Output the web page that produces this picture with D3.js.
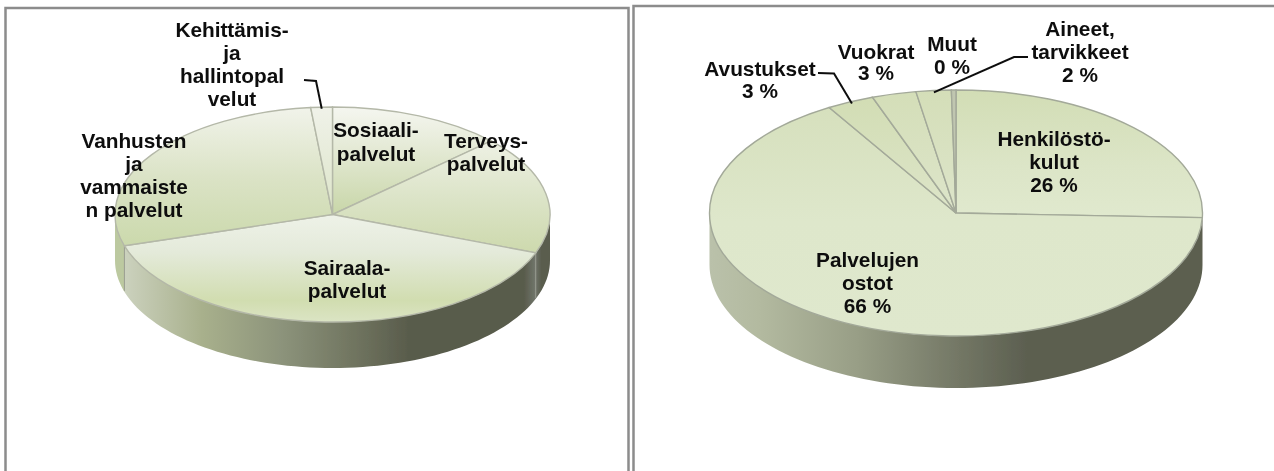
<!DOCTYPE html>
<html>
<head>
<meta charset="utf-8">
<script src="https://cdn.jsdelivr.net/npm/d3@7/dist/d3.min.js"></script>
<style>
    body { margin: 0; background: #fff; overflow: hidden; }
    svg { display: block; }
    text { font-family: "Liberation Sans", Arial, sans-serif; font-weight: bold; font-size: 20.8px; fill: #0c0c0c; text-anchor: middle; }
</style>
</head>
<body>
<script>
// ================================
// DATA
// ================================

// left pie: shares
var leftNames = ["Sosiaalipalvelut", "Terveyspalvelut", "Sairaalapalvelut", "Vanhusten ja vammaisten palvelut", "Kehittämis- ja hallintopalvelut"];
var leftValues = [13, 17.8, 39.5, 28.1, 1.6];
var leftLabels = [
    ["Sosiaali-", "palvelut"],
    ["Terveys-", "palvelut"],
    ["Sairaala-", "palvelut"],
    ["Vanhusten", "ja", "vammaiste", "n palvelut"],
    ["Kehittämis-", "ja", "hallintopal", "velut"]
];

// right pie: labels say whole percents, angles give a bit more detail
var rightNames = ["Henkilöstökulut", "Palvelujen ostot", "Avustukset", "Vuokrat", "Aineet, tarvikkeet", "Muut"];
var rightValues = [25.6, 65.8, 3.1, 2.9, 2.3, 0.3];
var rightLabels = [
    ["Henkilöstö-", "kulut", "26 %"],
    ["Palvelujen", "ostot", "66 %"],
    ["Avustukset", "3 %"],
    ["Vuokrat", "3 %"],
    ["Aineet,", "tarvikkeet", "2 %"],
    ["Muut", "0 %"]
];

// ================================
// LAYOUT + STYLE
// ================================
var width = 1274,
    height = 471;

var leftPie = {
    id: "l", cx: 332.5, cy: 214.5, rx: 217.5, ry: 107.5, depth: 46,
    values: leftValues, names: leftNames, labels: leftLabels,
    labelPos: [[376, 137], [486, 148], [347, 275], [134, 148], [232, 37]],
    lineHeights: [24, 23, 23, 23, 23],
    leaders: [{slice: 4, from: [304, 80], knee: [316, 81]}],
    edge: "#b4b8a8",
    tops: [
        [[0, "#f5f6f0"], [0.35, "#e6ebd8"], [1, "#c8d6a8"]],
        [[0, "#eef1e4"], [0.5, "#dce4c8"], [1, "#cdd9ad"]],
        [[0, "#eef2e8"], [0.35, "#e4eada"], [0.8, "#d1ddb0"], [1, "#dbe4c4"]],
        [[0, "#f1f3ea"], [0.5, "#dbe3c6"], [1, "#cbd9ac"]],
        [[0, "#f0f2e9"], [1, "#dce4c8"]]
    ],
    wall: [[0, "#bcc9a0"], [0.02, "#bcc9a0"], [0.024, "#cbd1bd"], [0.2, "#a8b08c"], [0.39, "#8b927a"], [0.58, "#6b6f5b"], [0.68, "#585b4b"], [0.94, "#585b4b"], [0.965, "#70746a"], [0.98, "#5a5d4e"], [1, "#5a5d4e"]],
    wallLine: "#9a9e92"
};

var rightPie = {
    id: "r", cx: 956, cy: 213, rx: 246.5, ry: 123, depth: 52,
    values: rightValues, names: rightNames, labels: rightLabels,
    labelPos: [[1054, 146], [867.5, 267], [760, 76], [876, 59], [1080, 36], [952, 51]],
    lineHeights: [23, 23, 22, 21, 23, 23],
    leaders: [
        {slice: 2, from: [818, 73], knee: [834, 73.5]},
        {slice: 4, from: [1028, 57], knee: [1014, 57]}
    ],
    edge: "#a3a999",
    tops: [
        [[0, "#d2ddb5"], [0.6, "#dce5c7"], [1, "#e0e9ce"]],
        [[0, "#d6e0bd"], [0.5, "#dee7cb"], [1, "#dfe8cd"]],
        [[0, "#d2ddb4"], [1, "#dde5c9"]],
        [[0, "#d4deb8"], [1, "#dde5ca"]],
        [[0, "#d4deb8"], [1, "#dde5ca"]],
        [[0, "#c0c6b0"], [1, "#c0c6b0"]]
    ],
    wall: [[0, "#bac1aa"], [0.1, "#b3baa0"], [0.3, "#989e86"], [0.5, "#747866"], [0.65, "#5b5e4f"], [1, "#5b5e4f"]],
    wallLine: "none"
};

var svg = d3.select("body")
    .append("svg")
    .attr("width", width)
    .attr("height", height);

var defs = svg.append("defs");

// the source picture is a soft upscaled screenshot
defs.append("filter")
    .attr("id", "soft")
    .append("feGaussianBlur")
    .attr("stdDeviation", 0.55);

var chart = svg.append("g").attr("filter", "url(#soft)");

// ================================
// PANEL FRAMES
// ================================
function drawFrame(d, stroke, strokeWidth){
    chart.append("path")
        .attr("d", d)
        .attr("fill", "none")
        .attr("stroke", stroke)
        .attr("stroke-width", strokeWidth);
}

drawFrame("M5.5," + height + "V8H628.5V" + height, "#8c8c8c", 2.5);
drawFrame("M633.5," + height + "V6H" + width, "#8c8c8c", 2.5);

// ================================
// DRAW PIE
// ================================
function addGradient(id, stops, horizontal){
    var g = defs.append("linearGradient").attr("id", id);
    if (horizontal){
        g.attr("x1", 0).attr("y1", 0).attr("x2", 1).attr("y2", 0);
    } else {
        g.attr("x1", 0).attr("y1", 0).attr("x2", 0).attr("y2", 1);
    }
    g.selectAll("stop")
        .data(stops)
        .enter()
        .append("stop")
        .attr("offset", function(d){ return d[0]; })
        .attr("stop-color", function(d){ return d[1]; });
}

function drawPie(p){

    var slices = d3.pie().sort(null)(p.values);

    var arc = d3.arc()
        .innerRadius(0)
        .outerRadius(p.rx);

    // point on the rim for a pie angle
    function rim(a, k){
        return [p.cx + p.rx * k * Math.sin(a), p.cy - p.ry * k * Math.cos(a)];
    }

    // wall under the front half of the rim
    addGradient(p.id + "-wall", p.wall, true);

    var front = d3.range(0, 91).map(function(i){
        return Math.PI / 2 + Math.PI * i / 90;
    });
    var top = front.map(function(a){ return rim(a, 1); });
    var bottom = top.map(function(t){ return [t[0], t[1] + p.depth]; }).reverse();

    chart.append("path")
        .attr("d", d3.line()(top.concat(bottom)) + "Z")
        .attr("fill", "url(#" + p.id + "-wall)");

    // slice edges carried down the wall
    slices.forEach(function(s){
        var a = s.endAngle;
        if (a > Math.PI / 2 && a < Math.PI * 1.5){
            var t = rim(a, 1);
            chart.append("line")
                .attr("x1", t[0]).attr("y1", t[1])
                .attr("x2", t[0]).attr("y2", t[1] + p.depth * 0.98)
                .attr("stroke", p.wallLine)
                .attr("stroke-width", 1);
        }
    });

    // top face: unit circle squashed into the ellipse
    var face = chart.append("g")
        .attr("transform", "translate(" + p.cx + "," + p.cy + ") scale(1," + (p.ry / p.rx) + ")");

    p.tops.forEach(function(stops, i){
        addGradient(p.id + "-top" + i, stops, false);
    });

    face.selectAll("path")
        .data(slices)
        .enter()
        .append("path")
        .attr("class", "slice")
        .attr("d", arc)
        .attr("fill", function(d, i){ return "url(#" + p.id + "-top" + i + ")"; })
        .attr("stroke", p.edge)
        .attr("stroke-width", 1.4)
        .attr("vector-effect", "non-scaling-stroke")
        .append("title")
        .text(function(d, i){ return p.names[i]; });

    // leader lines end on the rim of their slice
    p.leaders.forEach(function(l){
        var s = slices[l.slice];
        var end = rim((s.startAngle + s.endAngle) / 2, 0.985);
        chart.append("path")
            .attr("d", d3.line()([l.from, l.knee, end]))
            .attr("fill", "none")
            .attr("stroke", "#111")
            .attr("stroke-width", 2);
    });

    // labels
    p.labels.forEach(function(lines, i){
        var label = chart.append("text")
            .attr("x", p.labelPos[i][0])
            .attr("y", p.labelPos[i][1]);
        label.selectAll("tspan")
            .data(lines)
            .enter()
            .append("tspan")
            .attr("x", p.labelPos[i][0])
            .attr("dy", function(d, j){ return j === 0 ? 0 : p.lineHeights[i]; })
            .text(function(d){ return d; });
    });
}

drawPie(leftPie);
drawPie(rightPie);
</script>
</body>
</html>
